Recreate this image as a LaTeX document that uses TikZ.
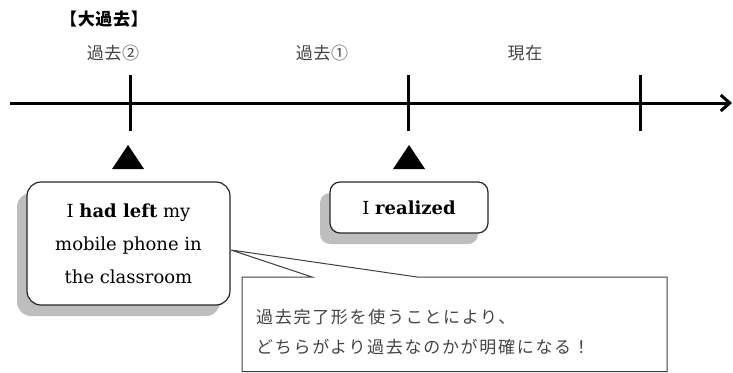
\documentclass[tikz,border=0pt]{standalone}
\usepackage{fontspec}
\setmainfont{DejaVu Serif}
\newfontfamily\jp[LetterSpace=10]{Noto Sans CJK JP}
\newfontfamily\jpl[LetterSpace=4]{Noto Sans CJK JP}
\usetikzlibrary{arrows.meta,shadows}
\definecolor{txtgray}{HTML}{444444}
\definecolor{shadowgray}{HTML}{BEBEBE}
\tikzset{
  tline/.style={line width=3pt,black},
  tick/.style={line width=3pt,black},
  bubble/.style={draw=black!85,line width=1.2pt,fill=white,rounded corners=14pt,align=center,
    font=\fontsize{18}{33}\selectfont,
    drop shadow={shadow xshift=-10pt,shadow yshift=-11pt,fill=shadowgray,opacity=1}},
  jplabel/.style={font=\jpl\fontsize{17}{20}\selectfont,text=txtgray,inner sep=0pt},
  jpnote/.style={font=\jp\fontsize{17}{20}\selectfont,text=txtgray,inner sep=0pt,anchor=base west},
  callout/.style={draw=black!75,line width=1pt,fill=white},
}
\begin{document}
\begin{tikzpicture}[x=1pt,y=-1pt]
\useasboundingbox (0,0) rectangle (733,372);
% heading and labels
\node[font=\jpl\bfseries\fontsize{17}{20}\selectfont,inner sep=0pt] (head) at (104,19) {【大過去】};
\node[jplabel] (l2) at (113,53) {過去②};
\node[jplabel] (l1) at (322,53) {過去①};
\node[jplabel] (l0) at (525,53) {現在};
% timeline
\coordinate (tstart) at (10,103);
\coordinate (tend) at (732,103);
\draw[tline,-{Straight Barb[length=9pt,width=16pt,line width=3pt]}] (tstart) -- (tend);
\coordinate (k1a) at (130,75); \coordinate (k1b) at (130,131);
\coordinate (k2a) at (408,75); \coordinate (k2b) at (408,131);
\coordinate (k3a) at (640,75); \coordinate (k3b) at (640,131);
\draw[tick] (k1a) -- (k1b);
\draw[tick] (k2a) -- (k2b);
\draw[tick] (k3a) -- (k3b);
% triangles
\coordinate (tr1) at (128,145);
\coordinate (tr2) at (409,145);
\fill (tr1) -- ++(16,24) -- ++(-32,0) -- cycle;
\fill (tr2) -- ++(16,24) -- ++(-32,0) -- cycle;
% callout
\coordinate (tip) at (231,250);
\draw[callout] (242,277) -- (312,277) -- (tip) -- (417,277) -- (667,277) -- (667,371.5) -- (242,371.5) -- cycle;
\node[jpnote] (note1) at (256,323) {過去完了形を使うことにより、};
\node[jpnote] (note2) at (256,353) {どちらがより過去なのかが明確になる！};
% bubbles
\node[bubble,minimum width=203pt,minimum height=123pt] (b1) at (128.5,243.5)
  {I \textbf{had left} my\\mobile phone in\\the classroom};
\node[bubble,rounded corners=10pt,minimum width=158pt,minimum height=51pt] (b2) at (409,207.5)
  {I \textbf{realized}};
\end{tikzpicture}
\end{document}
